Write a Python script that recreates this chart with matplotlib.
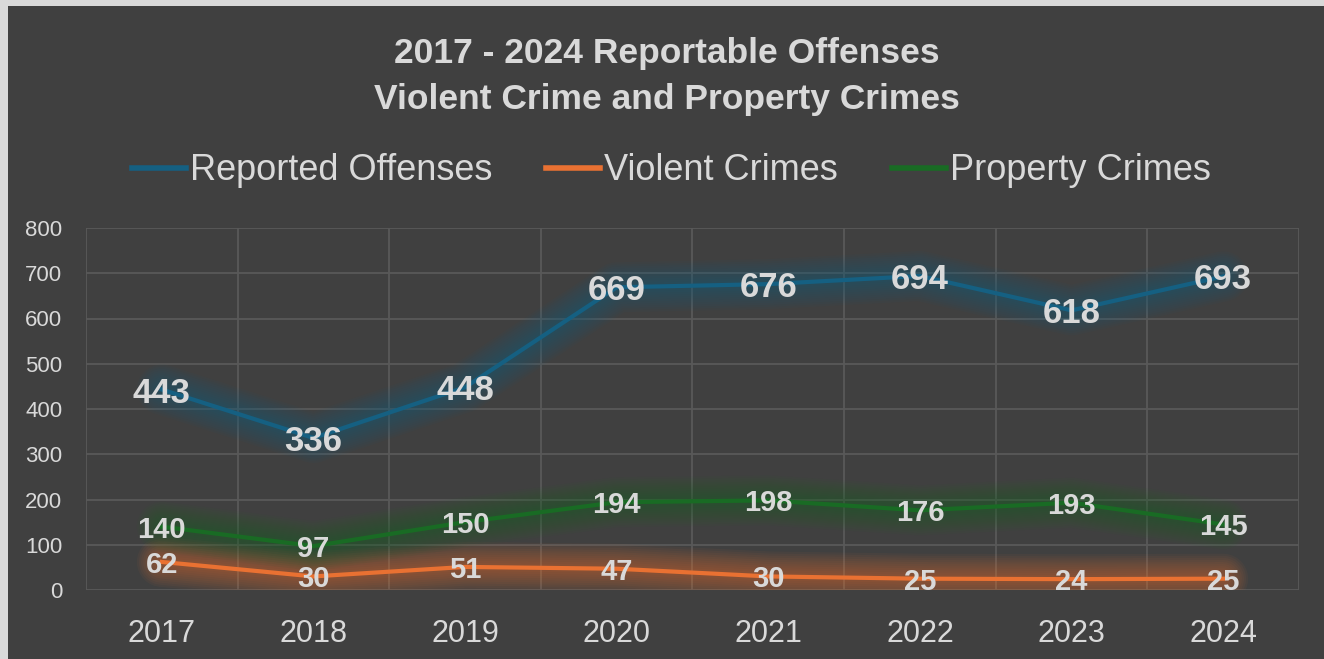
import numpy as np
import matplotlib.pyplot as plt
from matplotlib.patches import Rectangle

plt.rcParams['font.family'] = ['Liberation Sans', 'DejaVu Sans']

# --- data --- #
years = ['2017', '2018', '2019', '2020', '2021', '2022', '2023', '2024']
reported = [443, 336, 448, 669, 676, 694, 618, 693]
violent = [62, 30, 51, 47, 30, 25, 24, 25]
property_crimes = [140, 97, 150, 194, 198, 176, 193, 145]

series = [
    ('Reported Offenses', reported, '#156082', 25),
    ('Violent Crimes', violent, '#E97132', 21),
    ('Property Crimes', property_crimes, '#196B24', 21),
]

bg = '#404040'
txt = '#d9d9d9'
grid_col = '#595959'

fig = plt.figure(figsize=(13.24, 6.59), dpi=100, facecolor=bg)
# light frame on the top and left edges
fig.patches.append(Rectangle((0, 0), 8 / 1324, 1, transform=fig.transFigure,
                             facecolor='#d9d9d9', edgecolor='none', zorder=-1))
fig.patches.append(Rectangle((0, 1 - 6 / 659), 1, 6 / 659, transform=fig.transFigure,
                             facecolor='#d9d9d9', edgecolor='none', zorder=-1))

ax = fig.add_axes([86 / 1324, 1 - 590 / 659, (1299 - 86) / 1324, (590 - 228) / 659])
ax.set_facecolor(bg)

x = np.arange(len(years))

# gridlines
ax.set_ylim(0, 800)
ax.set_xlim(-0.5, len(years) - 0.5)
ax.set_yticks(np.arange(0, 801, 100))
ax.set_xticks(x)
ax.set_xticklabels(years)
ax.set_xticks(np.arange(-0.5, len(years), 1), minor=True)
ax.grid(True, axis='y', which='major', color=grid_col, lw=1.3, zorder=1)
ax.grid(True, axis='x', which='minor', color=grid_col, lw=1.3, zorder=1)
ax.tick_params(axis='both', which='both', length=0)
ax.tick_params(axis='y', labelsize=16, labelcolor=txt, pad=17)
ax.tick_params(axis='x', labelsize=22, labelcolor=txt, pad=21)
for s in ax.spines.values():
    s.set_visible(False)

# soft glow under the lines
for name, vals, col, fs in series:
    for w in np.linspace(36, 6, 11):
        ax.plot(x, vals, color=col, lw=w, alpha=0.05, solid_capstyle='round',
                solid_joinstyle='round', zorder=2)

handles = []
for name, vals, col, fs in series:
    h, = ax.plot(x, vals, color=col, lw=3, label=name, zorder=3)
    handles.append(h)
    for xi, v in zip(x, vals):
        ax.text(xi, v, str(v), ha='center', va='center_baseline', fontsize=fs,
                fontweight='bold', color=txt, zorder=4)

fig.text(0.504, 1 - 53 / 659, '2017 - 2024 Reportable Offenses', ha='center', va='center',
         fontsize=25.5, fontweight='bold', color=txt)
fig.text(0.504, 1 - 99 / 659, 'Violent Crime and Property Crimes', ha='center', va='center',
         fontsize=25.5, fontweight='bold', color=txt)

leg = fig.legend(handles=handles, loc='center', bbox_to_anchor=(0.507, 1 - 171 / 659),
                 ncol=3, frameon=False, fontsize=26, handlelength=1.5,
                 handletextpad=0.1, columnspacing=1.5, labelcolor=txt)
for lh in leg.get_lines():
    lh.set_linewidth(4)

fig.savefig('out.png', dpi=100, facecolor=fig.get_facecolor())
